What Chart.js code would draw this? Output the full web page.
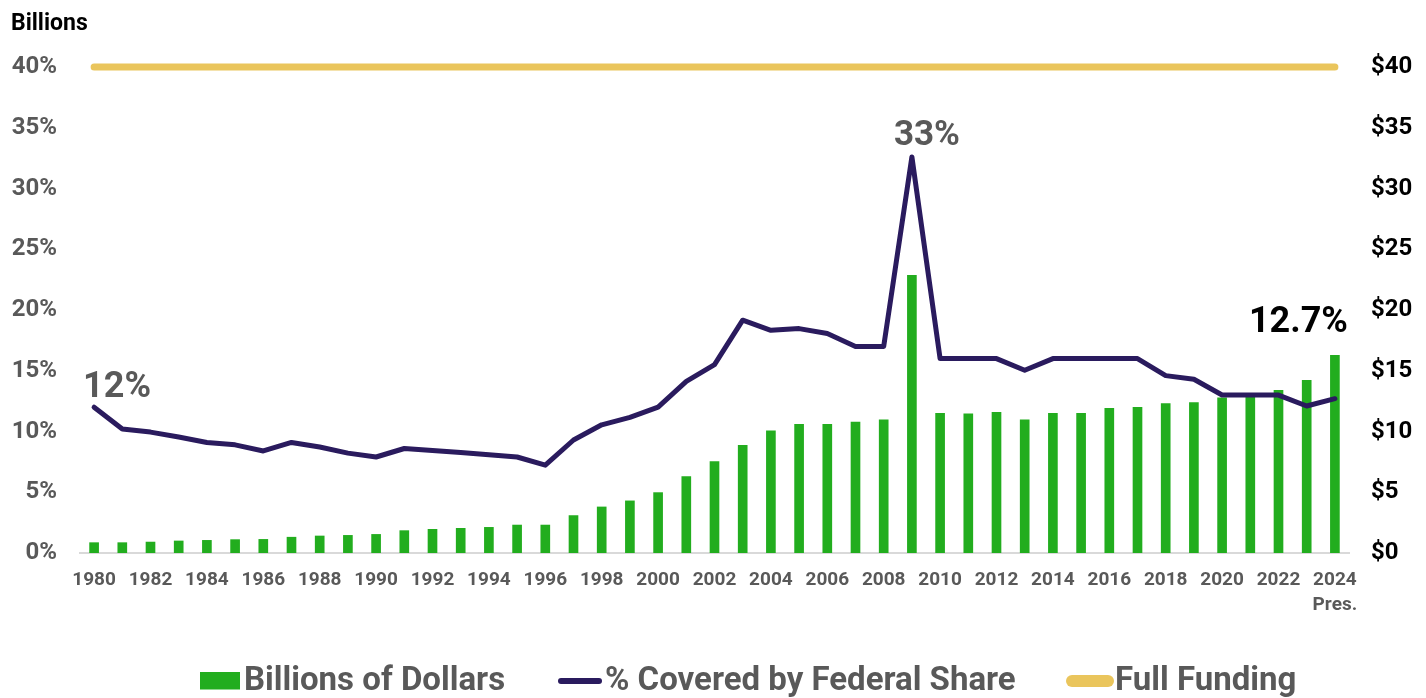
<!DOCTYPE html>
<html><head><meta charset="utf-8">
<script src="https://cdn.jsdelivr.net/npm/chart.js@4.4.1/dist/chart.umd.min.js"></script>
<style>html,body{margin:0;padding:0;background:#fff;overflow:hidden}#wrap{width:1426px;height:698px;position:relative}</style>
</head><body><div id="wrap"><canvas id="c" width="1426" height="698"></canvas></div>
<script>
// ---- data ----
const categories = ['1980','1981','1982','1983','1984','1985','1986','1987','1988','1989','1990','1991','1992','1993','1994','1995','1996','1997','1998','1999','2000','2001','2002','2003','2004','2005','2006','2007','2008','2009','2010','2011','2012','2013','2014','2015','2016','2017','2018','2019','2020','2021','2022','2023',['2024','Pres.']];
const billionsOfDollars = [0.85,0.85,0.9,0.99,1.04,1.1,1.12,1.3,1.4,1.45,1.53,1.84,1.95,2.03,2.11,2.3,2.3,3.08,3.79,4.29,4.97,6.29,7.53,8.87,10.05,10.58,10.58,10.77,10.97,22.85,11.5,11.46,11.57,10.97,11.49,11.49,11.9,11.98,12.29,12.37,12.78,12.92,13.39,14.21,16.27];
const percentCovered = [12.0,10.2,9.95,9.55,9.1,8.9,8.4,9.1,8.72,8.22,7.9,8.6,8.44,8.27,8.08,7.9,7.23,9.3,10.55,11.16,12.0,14.13,15.5,19.16,18.33,18.47,18.06,17.0,17.0,32.6,16.0,16.0,16.0,15.04,16.0,16.0,16.0,16.0,14.6,14.3,13.0,13.0,13.0,12.1,12.7];
const fullFunding = [40,40,40,40,40,40,40,40,40,40,40,40,40,40,40,40,40,40,40,40,40,40,40,40,40,40,40,40,40,40,40,40,40,40,40,40,40,40,40,40,40,40,40,40,40];
const seriesNames = ['Billions of Dollars','% Covered by Federal Share','Full Funding'];
const calloutIndex = [0, 29, 44];
const calloutText = ['12%', '33%', '12.7%'];
const axisTitle = 'Billions';
const tickMin = 0, tickMax = 40, tickStep = 5;

// ---- styles ----
const GREEN = '#22AD1E', NAVY = '#2A1B5E', GOLD = '#EAC55C', GREY = '#595959';
const FONT = 'Roboto, "Liberation Sans", Arial, sans-serif';

const extras = {
  id: 'extras',
  afterDatasetsDraw(chart) {
    const ctx = chart.ctx, xs = chart.scales.x, ys = chart.scales.y;
    ctx.save();
    // callouts
    const offs = [{dx:-11, dy:-10.5, align:'left', color:GREY, size:36},
                  {dx:-18, dy:-12, align:'left', color:GREY, size:35},
                  {dx:13, dy:-67, align:'right', color:'#000', size:36}];
    calloutIndex.forEach((idx, k) => {
      const o = offs[k];
      const px = xs.getPixelForValue(idx), py = ys.getPixelForValue(percentCovered[idx]);
      ctx.font = 'bold ' + o.size + 'px ' + FONT;
      ctx.fillStyle = o.color; ctx.textAlign = o.align; ctx.textBaseline = 'alphabetic';
      ctx.fillText(calloutText[k], px + o.dx, py + o.dy);
    });
    // axis title
    ctx.font = 'bold 23px ' + FONT; ctx.fillStyle = '#000'; ctx.textAlign = 'left';
    ctx.fillText(axisTitle, 11, 30);
    // legend
    ctx.font = 'bold 33px ' + FONT; ctx.fillStyle = GREY;
    const base = 690, cy = 681;
    ctx.fillStyle = GREEN; ctx.fillRect(200, 672, 40, 17.5);
    ctx.fillStyle = GREY; ctx.fillText(seriesNames[0], 244, base);
    ctx.lineCap = 'round';
    ctx.strokeStyle = NAVY; ctx.lineWidth = 6;
    ctx.beginPath(); ctx.moveTo(561, cy); ctx.lineTo(599, cy); ctx.stroke();
    ctx.fillText(seriesNames[1], 605, base);
    ctx.strokeStyle = GOLD; ctx.lineWidth = 12;
    ctx.beginPath(); ctx.moveTo(1072, cy); ctx.lineTo(1108, cy); ctx.stroke();
    ctx.fillText(seriesNames[2], 1115, base);
    ctx.restore();
  }
};

new Chart(document.getElementById('c'), {
  data: {
    labels: categories,
    datasets: [
      {type:'bar', label:seriesNames[0], data:billionsOfDollars, yAxisID:'y1', backgroundColor:GREEN, barThickness:9, order:3},
      {type:'line', label:seriesNames[1], data:percentCovered, yAxisID:'y', borderColor:NAVY, borderWidth:5, pointRadius:0, tension:0, borderJoinStyle:'round', borderCapStyle:'round', order:1},
      {type:'line', label:seriesNames[2], data:fullFunding, yAxisID:'y', borderColor:GOLD, borderWidth:7, pointRadius:0, borderCapStyle:'round', clip:false, order:2}
    ]
  },
  options: {
    responsive:false, animation:false, devicePixelRatio:1,
    layout:{padding:{top:67, bottom:0, left:0, right:0}},
    plugins:{legend:{display:false}, tooltip:{enabled:false}, title:{display:false}},
    scales:{
      x:{
        offset:true,
        grid:{display:false, drawTicks:false},
        border:{display:true, color:'#D9D9D9', width:2},
        ticks:{autoSkip:false, maxRotation:0, minRotation:0, padding:15, color:GREY,
          font:{family:FONT, size:19, weight:'bold', lineHeight:1.3},
          callback(v, i){ return i % 2 === 0 ? this.getLabelForValue(v) : ''; }},
        afterFit(s){ s.height = 145; }
      },
      y:{
        position:'left', min:tickMin, max:tickMax,
        grid:{display:false, drawTicks:false}, border:{display:false},
        ticks:{stepSize:tickStep, padding:23, color:GREY, font:{family:FONT, size:24, weight:'bold'},
          callback:v => v + '%'},
        afterFit(s){ s.width = 80; }
      },
      y1:{
        position:'right', min:tickMin, max:tickMax,
        grid:{display:false, drawTicks:false}, border:{display:false},
        ticks:{stepSize:tickStep, padding:22, color:'#000', font:{family:FONT, size:24, weight:'bold'},
          callback:v => '$' + v},
        afterFit(s){ s.width = 77; }
      }
    }
  },
  plugins:[extras]
});
</script></body></html>
